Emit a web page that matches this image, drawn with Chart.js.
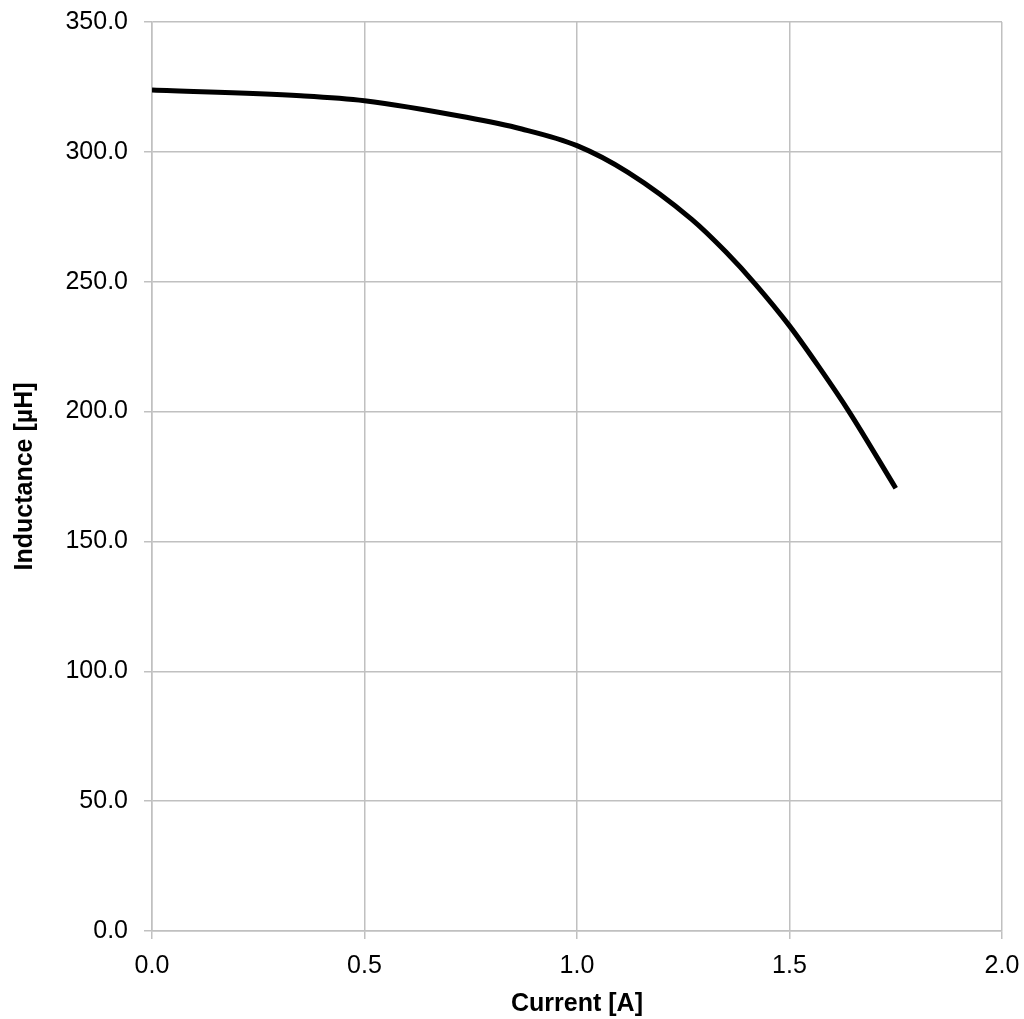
<!DOCTYPE html>
<html>
<head>
<meta charset="utf-8">
<script src="https://cdn.jsdelivr.net/npm/chart.js@4"></script>
<style>
  html, body { margin: 0; padding: 0; background: #fff; }
  #wrap { width: 1024px; height: 1019px; position: relative; }
</style>
</head>
<body>
<div id="wrap"><canvas id="chart"></canvas></div>
<script>
// values
const current = [0, 0.35, 0.5, 0.74, 0.87, 1.0, 1.12, 1.27, 1.35, 1.42, 1.5, 1.57, 1.64, 1.75];
const inductance = [323.8, 321.6, 319.7, 313.3, 308.8, 302.4, 292.1, 274.0, 261.5, 249.0, 233.0, 217.0, 200.0, 170.5];

const xTitle = 'Current [A]';
const yTitle = 'Inductance [µH]';

Chart.defaults.font.family = '"Liberation Sans", Arial, sans-serif';
Chart.defaults.color = '#000';

const gridColor = '#c0c0c0';

new Chart(document.getElementById('chart'), {
  type: 'line',
  data: {
    datasets: [{
      data: current.map((c, i) => ({ x: c, y: inductance[i] })),
      borderColor: '#000',
      borderWidth: 5,
      pointRadius: 0,
      cubicInterpolationMode: 'monotone',
      fill: false
    }]
  },
  options: {
    responsive: true,
    maintainAspectRatio: false,
    animation: false,
    layout: { padding: { top: 22, right: 22, left: 0, bottom: 0 } },
    plugins: { legend: { display: false }, tooltip: { enabled: false } },
    scales: {
      x: {
        type: 'linear',
        min: 0, max: 2,
        ticks: { stepSize: 0.5, padding: 12, font: { size: 25 }, callback: v => v.toFixed(1) },
        grid: { color: gridColor, lineWidth: 1.5, tickLength: 8 },
        border: { color: gridColor, width: 1.5 },
        title: { display: true, text: xTitle, font: { size: 25, weight: 'bold' }, padding: { top: 0, bottom: 0 } },
        afterFit: s => { s.height = 88; s.paddingLeft = 0; s.paddingRight = 0; }
      },
      y: {
        min: 0, max: 350,
        ticks: { stepSize: 50, padding: 16, font: { size: 25 }, callback: v => v.toFixed(1) },
        grid: { color: gridColor, lineWidth: 1.5, tickLength: 8 },
        border: { color: gridColor, width: 1.5 },
        title: { display: true, text: yTitle, font: { size: 25, weight: 'bold' }, padding: { top: 10, bottom: 0 } },
        afterFit: s => { s.width = 152; s.paddingTop = 0; s.paddingBottom = 0; }
      }
    }
  }
});
</script>
</body>
</html>
